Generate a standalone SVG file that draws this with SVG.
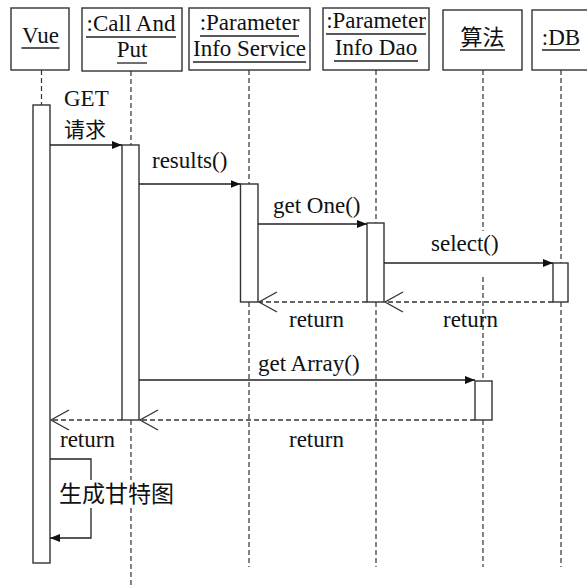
<svg xmlns="http://www.w3.org/2000/svg" width="587" height="585" viewBox="0 0 587 585">
<style>
.box{fill:#fff;stroke:#333;stroke-width:1.4}
.bar{fill:#fff;stroke:#333;stroke-width:1.4}
.life{stroke:#333;stroke-width:1.2;stroke-dasharray:5,3;fill:none}
.msg{stroke:#222;stroke-width:1.3;fill:none}
.ret{stroke:#333;stroke-width:1.3;stroke-dasharray:5,3;fill:none}
.ul{stroke:#222;stroke-width:1.3}
text{font-family:"Liberation Serif","Noto Sans CJK SC",serif;font-size:23px;fill:#111}
.cjk{font-family:"Noto Sans CJK SC",sans-serif;font-size:22px}
.c{text-anchor:middle}
</style>
<defs>
<marker id="fill" markerWidth="12" markerHeight="10" refX="10" refY="4" orient="auto" markerUnits="userSpaceOnUse">
<path d="M0,0 L10,4 L0,8 z" fill="#111"/>
</marker>
<marker id="open" markerWidth="22" markerHeight="24" refX="19" refY="11" orient="auto" markerUnits="userSpaceOnUse">
<path d="M1,1 L19,11 L1,21" fill="none" stroke="#333" stroke-width="1.3"/>
</marker>
</defs>
<rect width="587" height="585" fill="#fff"/>

<g id="lifelines">
<path class="life" d="M41.5,70 V105"/>
<path class="life" d="M131,71 V145 M131,420 V585"/>
<path class="life" d="M249,70 V184 M249,302 V567"/>
<path class="life" d="M376,70 V223 M376,302 V567"/>
<path class="life" d="M483,70 V231 M483,277 V381 M483,420 V567"/>
<path class="life" d="M561,70 V263 M561,302 V567"/>
</g>

<g id="vue">
<rect class="box" x="11" y="8" width="58" height="62"/>
<text class="c" x="40.5" y="43">Vue</text>
<line class="ul" x1="21.5" y1="48" x2="59.5" y2="48"/>
</g>
<g id="callandput">
<rect class="box" x="82" y="8" width="100" height="63"/>
<text class="c" x="131" y="31">:Call And</text>
<line class="ul" x1="86" y1="37" x2="176" y2="37"/>
<text class="c" x="132" y="57">Put</text>
<line class="ul" x1="117" y1="63" x2="147" y2="63"/>
</g>
<g id="paraminfoservice">
<rect class="box" x="189" y="8" width="121" height="62"/>
<text class="c" x="249.5" y="30">:Parameter</text>
<line class="ul" x1="200" y1="36" x2="299" y2="36"/>
<text class="c" x="249.5" y="56">Info Service</text>
<line class="ul" x1="193" y1="62" x2="306" y2="62"/>
</g>
<g id="paraminfodao">
<rect class="box" x="323" y="8" width="106" height="62"/>
<text class="c" x="376" y="28">:Parameter</text>
<line class="ul" x1="326" y1="34" x2="426" y2="34"/>
<text class="c" x="376" y="55">Info Dao</text>
<line class="ul" x1="334" y1="61" x2="418" y2="61"/>
</g>
<g id="suanfa">
<rect class="box" x="443" y="10" width="79" height="60"/>
<text class="c cjk" x="482.5" y="45">算法</text>
<line class="ul" x1="460" y1="50" x2="505" y2="50"/>
</g>
<g id="db">
<rect class="box" x="532" y="10" width="60" height="60"/>
<text class="c" x="561" y="45">:DB</text>
<line class="ul" x1="542" y1="50" x2="580" y2="50"/>
</g>

<g id="activations">
<rect class="bar" x="33" y="105" width="17" height="458"/>
<rect class="bar" x="122" y="145" width="17" height="275"/>
<rect class="bar" x="240.5" y="184" width="17.5" height="118"/>
<rect class="bar" x="367" y="223" width="17" height="79"/>
<rect class="bar" x="553" y="263" width="15" height="39"/>
<rect class="bar" x="475" y="381" width="17" height="39"/>
</g>

<g id="connectors">
<line class="msg" x1="50" y1="145" x2="122" y2="145" marker-end="url(#fill)"/>
<line class="msg" x1="139" y1="184" x2="240.5" y2="184" marker-end="url(#fill)"/>
<line class="msg" x1="258" y1="224" x2="367" y2="224" marker-end="url(#fill)"/>
<line class="msg" x1="384" y1="263" x2="553" y2="263" marker-end="url(#fill)"/>
<line class="ret" x1="553" y1="302" x2="385" y2="302" marker-end="url(#open)"/>
<line class="ret" x1="367" y1="302" x2="259" y2="302" marker-end="url(#open)"/>
<line class="msg" x1="139" y1="380" x2="475" y2="380" marker-end="url(#fill)"/>
<line class="ret" x1="475" y1="420" x2="140" y2="420" marker-end="url(#open)"/>
<line class="ret" x1="122" y1="420" x2="51" y2="420" marker-end="url(#open)"/>
<path class="msg" d="M50,459 H91 V538 H50" marker-end="url(#fill)"/>
</g>

<g id="labels">
<text x="64" y="106">GET</text>
<text class="cjk" x="64" y="137" style="font-size:21px">请求</text>
<text x="152" y="168">results()</text>
<text x="273" y="213">get One()</text>
<text x="431" y="251">select()</text>
<text x="289" y="327">return</text>
<text x="443" y="327">return</text>
<text x="258" y="371">get Array()</text>
<text x="60" y="447">return</text>
<text x="289" y="447">return</text>
<rect x="57" y="480" width="121" height="28" fill="#fff"/>
<text class="cjk" x="59" y="502" style="font-size:23px">生成甘特图</text>
</g>
</svg>
